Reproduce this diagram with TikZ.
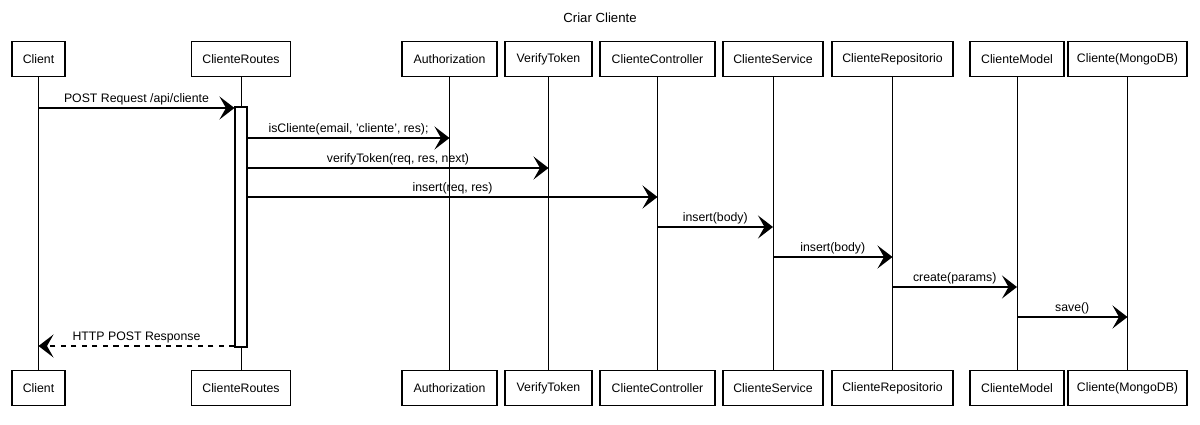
\documentclass[tikz,border=0pt]{standalone}
\usepackage{fontspec}
\setmainfont{Liberation Sans}
\usetikzlibrary{arrows.meta,positioning}

\begin{document}
\begin{tikzpicture}[
  x=0.02cm, y=-0.02cm,
  actor/.style={draw, line width=0.6pt, align=center, minimum height=0.7cm, inner sep=1pt, font=\fontsize{7}{8}\selectfont},
  life/.style={line width=0.5pt},
  actbar/.style={draw, fill=white, line width=0.6pt, minimum width=0.24cm, minimum height=4.8cm, inner sep=0pt},
  msg/.style={-{Stealth[length=3mm, width=4.6mm, inset=1.3mm]}, line width=0.8pt},
  reply/.style={msg, dashed},
  lbl/.style={above, inner sep=1.5pt, font=\fontsize{7}{8}\selectfont}
]
\useasboundingbox (0,0) rectangle (1200,425);

\node[font=\fontsize{7.5}{9}\selectfont] (title) at (600,18) {Criar Cliente};

% participants, top row
\node[actor, minimum width=1.06cm] (client) at (38.5,59) {Client};
\node[actor, minimum width=1.98cm] (routes) at (241,59) {ClienteRoutes};
\node[actor, minimum width=1.90cm] (auth) at (449.5,59) {Authorization};
\node[actor, minimum width=1.74cm] (verify) at (548.5,59) {VerifyToken};
\node[actor, minimum width=2.30cm] (ctrl) at (657.5,59) {ClienteController};
\node[actor, minimum width=2.00cm] (service) at (773,59) {ClienteService};
\node[actor, minimum width=2.42cm] (repo) at (892.5,59) {ClienteRepositorio};
\node[actor, minimum width=1.88cm] (model) at (1017,59) {ClienteModel};
\node[actor, minimum width=2.38cm] (mongo) at (1127.5,59) {Cliente(MongoDB)};

% participants, bottom row
\node[actor, minimum width=1.06cm] (clientB) at (38.5,388) {Client};
\node[actor, minimum width=1.98cm] (routesB) at (241,388) {ClienteRoutes};
\node[actor, minimum width=1.90cm] (authB) at (449.5,388) {Authorization};
\node[actor, minimum width=1.74cm] (verifyB) at (548.5,388) {VerifyToken};
\node[actor, minimum width=2.30cm] (ctrlB) at (657.5,388) {ClienteController};
\node[actor, minimum width=2.00cm] (serviceB) at (773,388) {ClienteService};
\node[actor, minimum width=2.42cm] (repoB) at (892.5,388) {ClienteRepositorio};
\node[actor, minimum width=1.88cm] (modelB) at (1017,388) {ClienteModel};
\node[actor, minimum width=2.38cm] (mongoB) at (1127.5,388) {Cliente(MongoDB)};

% lifelines
\draw[life] (client) -- (clientB);
\draw[life] (routes) -- (routesB);
\draw[life] (auth) -- (authB);
\draw[life] (verify) -- (verifyB);
\draw[life] (ctrl) -- (ctrlB);
\draw[life] (service) -- (serviceB);
\draw[life] (repo) -- (repoB);
\draw[life] (model) -- (modelB);
\draw[life] (mongo) -- (mongoB);

\node[actbar] (act) at (241,227) {};

% message rows
\coordinate (m1) at (0,108);
\coordinate (m2) at (0,138);
\coordinate (m3) at (0,168);
\coordinate (m4) at (0,197);
\coordinate (m5) at (0,227);
\coordinate (m6) at (0,257);
\coordinate (m7) at (0,287);
\coordinate (m8) at (0,317);
\coordinate (m9) at (0,346);

\draw[msg] (client |- m1) -- node[lbl]{POST Request /api/cliente} (act.west |- m1);
\draw[msg] (act.east |- m2) -- node[lbl]{isCliente(email, 'cliente', res);} (auth |- m2);
\draw[msg] (act.east |- m3) -- node[lbl]{verifyToken(req, res, next)} (verify |- m3);
\draw[msg] (act.east |- m4) -- node[lbl]{insert(req, res)} (ctrl |- m4);
\draw[msg] (ctrl |- m5) -- node[lbl]{insert(body)} (service |- m5);
\draw[msg] (service |- m6) -- node[lbl]{insert(body)} (repo |- m6);
\draw[msg] (repo |- m7) -- node[lbl]{create(params)} (model |- m7);
\draw[msg] (model |- m8) -- node[lbl]{save()} (mongo |- m8);
\draw[reply] (act.west |- m9) -- node[lbl]{HTTP POST Response} (client |- m9);
\end{tikzpicture}
\end{document}
